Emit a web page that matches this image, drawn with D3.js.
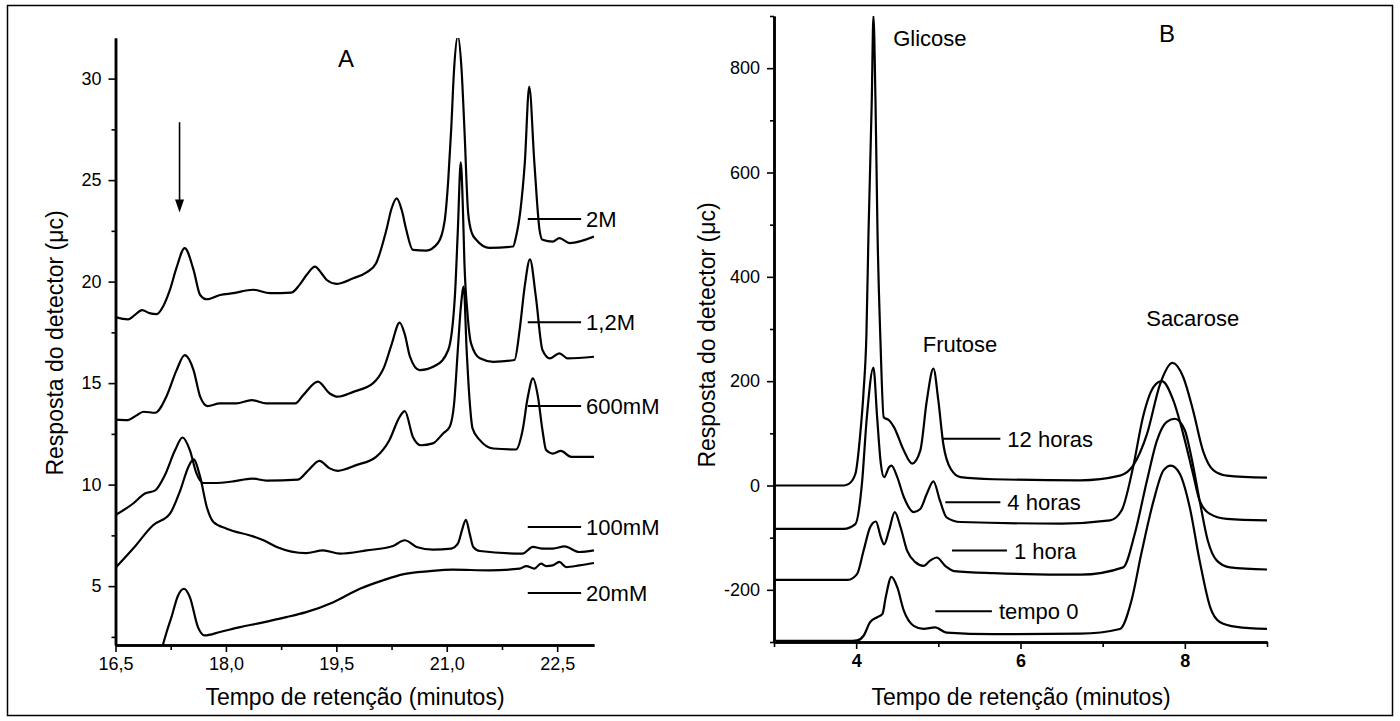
<!DOCTYPE html>
<html>
<head>
<meta charset="utf-8">
<script src="https://cdn.jsdelivr.net/npm/d3@7"></script>
<style>
  body { margin: 0; background: #fff; }
  svg text { font-family: "Liberation Sans", Arial, sans-serif; fill: #000; }
</style>
</head>
<body>
<div id="chart"></div>
<script>
"use strict";

// ---- Panel A: chromatograms at different eluent concentrations ----
var seriesA = ["2M", "1,2M", "600mM", "100mM", "20mM"];

var trace2M = [[16.5,18.25],[16.67,18.14],[16.76,18.35],[16.86,18.6],[16.96,18.45],[17.06,18.4],[17.15,18.8],
  [17.24,19.6],[17.33,20.7],[17.44,21.65],[17.56,20.58],[17.65,19.34],[17.74,19.13],[17.92,19.34],[18.1,19.43],
  [18.37,19.6],[18.6,19.43],[18.89,19.46],[19.0,19.84],[19.1,20.35],[19.21,20.74],[19.3,20.4],[19.37,20.08],
  [19.5,19.89],[19.73,20.17],[19.91,20.45],[20.04,20.91],[20.18,22.55],[20.25,23.6],[20.32,24.1],[20.39,23.5],
  [20.45,22.55],[20.54,21.56],[20.72,21.53],[20.88,21.9],[20.97,22.96],[21.02,25],[21.06,27.5],[21.1,30.5],
  [21.15,32.1],[21.2,30.5],[21.24,27.5],[21.29,23.4],[21.34,22.4],[21.4,22.06],[21.58,21.66],[21.9,21.73],
  [21.94,22.2],[22.0,23.5],[22.06,25.85],[22.12,29.6],[22.19,25.85],[22.26,22.55],[22.3,22.06],[22.44,21.97],
  [22.53,22.14],[22.67,21.9],[23.0,22.22]];

var trace12M = [[16.5,13.2],[16.67,13.18],[16.78,13.4],[16.88,13.59],[17.04,13.54],[17.19,14.33],[17.33,15.64],
  [17.44,16.38],[17.56,15.64],[17.65,14.33],[17.75,13.87],[17.92,14.0],[18.14,14.0],[18.35,14.16],[18.55,14.0],
  [18.94,14.0],[19.05,14.41],[19.25,15.07],[19.41,14.49],[19.52,14.33],[19.73,14.57],[20.0,15.0],[20.15,15.8],
  [20.25,16.9],[20.36,17.98],[20.43,17.4],[20.5,16.3],[20.63,15.64],[20.86,15.89],[21.02,16.63],[21.11,19.26],
  [21.15,22.5],[21.19,25.87],[21.22,23.5],[21.24,20.9],[21.28,18.5],[21.33,16.96],[21.45,16.22],[21.63,16.05],
  [21.92,16.14],[21.99,17.62],[22.06,19.8],[22.13,21.1],[22.21,19.26],[22.3,16.63],[22.4,16.22],[22.53,16.47],
  [22.64,16.22],[23.0,16.3]];

var trace600mM = [[16.5,8.5],[16.74,9.07],[16.9,9.56],[17.04,9.72],[17.17,10.46],[17.31,11.7],[17.41,12.32],
  [17.51,11.7],[17.6,10.55],[17.69,10.08],[17.83,10.08],[18.1,10.16],[18.35,10.3],[18.55,10.2],[18.98,10.25],
  [19.12,10.71],[19.27,11.17],[19.41,10.8],[19.52,10.68],[19.77,10.96],[20.04,11.37],[20.22,12.19],[20.36,13.34],
  [20.43,13.62],[20.54,12.35],[20.65,11.94],[20.81,12.03],[20.95,12.52],[21.04,12.85],[21.1,14.0],[21.15,16.63],
  [21.19,18.7],[21.23,19.75],[21.27,16.63],[21.31,14.16],[21.35,12.77],[21.45,12.19],[21.63,11.78],[21.94,11.73],
  [22.03,12.68],[22.1,14.3],[22.17,15.23],[22.24,14.3],[22.3,12.68],[22.35,11.7],[22.44,11.53],[22.55,11.66],
  [22.69,11.37],[23.0,11.37]];

var trace100mM = [[16.5,5.9],[16.74,6.85],[17.01,8.0],[17.24,8.57],[17.38,9.72],[17.49,10.87],[17.56,11.24],
  [17.65,10.38],[17.74,8.9],[17.83,8.16],[18.01,7.83],[18.37,7.45],[18.51,7.26],[18.69,6.93],[19.09,6.63],
  [19.32,6.76],[19.55,6.6],[19.91,6.76],[20.27,6.98],[20.43,7.26],[20.59,6.93],[20.81,6.8],[21.06,6.85],
  [21.15,7.09],[21.21,7.8],[21.26,8.27],[21.31,7.6],[21.36,6.93],[21.45,6.73],[22.03,6.6],[22.17,6.93],
  [22.3,6.85],[22.44,6.85],[22.6,6.96],[22.8,6.68],[23.0,6.76]];

var trace20mM = [[17.12,1.8],[17.2,2.8],[17.26,3.47],[17.35,4.54],[17.43,4.87],[17.51,4.46],[17.62,2.98],
  [17.71,2.57],[17.92,2.74],[18.19,2.98],[18.46,3.18],[18.82,3.47],[19.09,3.72],[19.46,4.21],[19.82,4.87],
  [20.13,5.28],[20.4,5.58],[20.77,5.74],[21.08,5.81],[21.58,5.78],[21.99,5.86],[22.08,5.99],[22.19,5.86],
  [22.28,6.11],[22.35,5.99],[22.44,6.02],[22.53,6.19],[22.62,5.94],[22.8,6.02],[23.0,6.14]];

var labelA_v = [23.08, 18.0, 13.87, 7.91, 4.66];   // level of each label line
var labelA_t = [22.1, 22.825];                    // extent of the label lines
var arrowA = { t: 17.37, from: 27.85, to: 23.4 };

var xTicksA = [16.5, 18, 19.5, 21, 22.5];
var xMinorA = [17.25, 18.75, 20.25, 21.75];
var yTicksA = [5, 10, 15, 20, 25, 30];
var yMinorA = [2.5, 7.5, 12.5, 17.5, 22.5, 27.5];

// ---- Panel B: sucrose hydrolysis over time ----
var seriesB = ["12 horas", "4 horas", "1 hora", "tempo 0"];

var traceH12 = [[3,0],[3.85,0],[3.91,3],[3.99,22],[4.05,99],[4.09,180],[4.125,291],[4.15,483],[4.19,739],
  [4.21,900],[4.235,739],[4.26,483],[4.295,280],[4.335,131],[4.4,125],[4.46,112],[4.58,67],[4.68,42],[4.78,67],
  [4.86,163],[4.94,224],[5.0,163],[5.06,80],[5.15,32],[5.27,16],[5.67,12],[6.73,10],[7.21,19],[7.37,38],
  [7.54,99],[7.7,195],[7.85,235],[7.98,208],[8.1,144],[8.22,67],[8.35,29],[8.51,19],[9.0,15]];

var traceH4 = [[3,-83],[3.85,-83],[3.99,-74],[4.07,3],[4.13,131],[4.21,226],[4.255,131],[4.3,42],[4.34,16],
  [4.4,35],[4.43,38],[4.5,16],[4.58,-22],[4.7,-51],[4.78,-45],[4.86,-16],[4.94,8],[5.02,-29],[5.1,-61],
  [5.27,-70],[6.5,-73],[7.09,-67],[7.23,-48],[7.37,35],[7.49,131],[7.62,189],[7.72,200],[7.86,163],[7.98,99],
  [8.1,22],[8.18,-29],[8.3,-54],[8.51,-64],[9.0,-67]];

var traceH1 = [[3,-181],[3.9,-181],[4.01,-170],[4.09,-125],[4.17,-80],[4.24,-69],[4.3,-99],[4.34,-113],
  [4.4,-86],[4.47,-51],[4.54,-80],[4.62,-125],[4.72,-147],[4.82,-154],[4.9,-144],[4.98,-138],[5.09,-155],
  [5.19,-164],[5.67,-168],[6.73,-171],[7.25,-157],[7.39,-93],[7.54,10],[7.66,86],[7.78,122],[7.88,128],
  [8.0,106],[8.08,54],[8.18,-29],[8.28,-106],[8.39,-144],[8.55,-157],[9.0,-161]];

var traceT0 = [[3,-298],[3.9,-298],[4.01,-297],[4.09,-288],[4.17,-262],[4.25,-253],[4.32,-246],[4.36,-214],
  [4.43,-175],[4.5,-195],[4.58,-240],[4.7,-269],[4.82,-275],[4.96,-272],[5.1,-282],[5.67,-285],[6.73,-284],
  [7.21,-275],[7.35,-221],[7.47,-131],[7.62,-29],[7.74,29],[7.83,38],[7.94,22],[8.06,-42],[8.18,-144],
  [8.31,-234],[8.43,-262],[8.63,-271],[9.0,-275]];

var labelB_v = [89.6, -32, -124.8, -241];
var labelB_t = [[5.057, 5.755], [5.085, 5.755], [5.166, 5.835], [4.963, 5.652]];

var compounds = ["Glicose", "Frutose", "Sacarose"];
var compound_t = [4.45, 4.81, 7.53];
var compound_v = [842, 255, 305];

var xTicksB = [4, 6, 8];
var xMinorB = [3, 5, 7, 9];
var yTicksB = [-200, 0, 200, 400, 600, 800];
var yMinorB = [-300, -100, 100, 300, 500, 700, 900];

/*
 * # Drawing
 */
var svg = d3.select("#chart")
            .append("svg")
            .attr("width", 1400)
            .attr("height", 721);

// outer frame
svg.append("rect")
   .attr("x", 7.5).attr("y", 5.5)
   .attr("width", 1385).attr("height", 710)
   .attr("fill", "none")
   .attr("stroke", "#000")
   .attr("stroke-width", 1.5);

var line = function (x, y) {
  return d3.line()
           .x(function (d) { return x(d[0]); })
           .y(function (d) { return y(d[1]); })
           .curve(d3.curveMonotoneX);
};

// plain hyphen for negatives, as in the original figure
var plain = function (d) { return String(d); };

var drawAxes = function (g, x, y, opt) {
  var xAxis = d3.axisBottom(x).tickValues(opt.xTicks).tickSize(7).tickSizeOuter(0)
                .tickPadding(5).tickFormat(opt.xFormat);
  var xMinor = d3.axisBottom(x).tickValues(opt.xMinor).tickSize(5).tickSizeOuter(0).tickFormat("");
  var yAxis = d3.axisLeft(y).tickValues(opt.yTicks).tickSize(7).tickSizeOuter(0)
                .tickPadding(7).tickFormat(opt.yFormat);
  var yMinor = d3.axisLeft(y).tickValues(opt.yMinor).tickSize(4).tickSizeOuter(0).tickFormat("");

  var gx = g.append("g").attr("transform", "translate(0," + y.range()[0] + ")");
  gx.call(xMinor);
  gx.append("g").call(xAxis);
  var gy = g.append("g").attr("transform", "translate(" + x.range()[0] + ",0)");
  gy.call(yMinor);
  gy.append("g").call(yAxis);

  g.selectAll(".domain").attr("stroke", "#000").attr("stroke-width", 2.5);
  g.selectAll(".tick line").attr("stroke", "#000").attr("stroke-width", 1.6);
  g.selectAll(".tick text").attr("fill", "#000").style("font-size", "18px")
   .style("font-family", "'Liberation Sans', Arial, sans-serif");
  gx.selectAll(".tick text").style("font-weight", opt.xBold ? "bold" : "normal");
  return { gx: gx, gy: gy };
};

var drawTraces = function (g, id, x, y, traces) {
  g.append("clipPath").attr("id", id)
   .append("rect")
   .attr("x", x.range()[0]).attr("y", y.range()[1])
   .attr("width", x.range()[1] - x.range()[0])
   .attr("height", y.range()[0] - y.range()[1]);
  g.append("g").attr("clip-path", "url(#" + id + ")")
   .selectAll("path")
   .data(traces)
   .enter()
   .append("path")
   .attr("d", line(x, y))
   .attr("fill", "none")
   .attr("stroke", "#000")
   .attr("stroke-width", 2.2)
   .attr("stroke-linejoin", "round");
};

//Panel A
var xA = d3.scaleLinear().domain([16.5, 23]).range([115.5, 594]);
var yA = d3.scaleLinear().domain([2.1, 32]).range([645, 38]);
var gA = svg.append("g");

drawTraces(gA, "clipA", xA, yA, [trace2M, trace12M, trace600mM, trace100mM, trace20mM]);
drawAxes(gA, xA, yA, {
  xTicks: xTicksA, xMinor: xMinorA, yTicks: yTicksA, yMinor: yMinorA,
  xFormat: function (d) { return d3.format(".1f")(d).replace(".", ","); },
  yFormat: plain, xBold: false
});

// labels of panel A
gA.selectAll(".labline")
  .data(seriesA)
  .enter()
  .append("line")
  .attr("x1", xA(labelA_t[0])).attr("x2", xA(labelA_t[1]))
  .attr("y1", function (d, i) { return yA(labelA_v[i]); })
  .attr("y2", function (d, i) { return yA(labelA_v[i]); })
  .attr("stroke", "#000").attr("stroke-width", 2);
gA.selectAll(".labtext")
  .data(seriesA)
  .enter()
  .append("text")
  .attr("x", xA(labelA_t[1]) + 5)
  .attr("y", function (d, i) { return yA(labelA_v[i]); })
  .attr("dy", "0.36em")
  .style("font-size", "22px")
  .text(function (d) { return d; });

// arrow
gA.append("line")
  .attr("x1", xA(arrowA.t)).attr("x2", xA(arrowA.t))
  .attr("y1", yA(arrowA.from)).attr("y2", yA(arrowA.to) - 6)
  .attr("stroke", "#000").attr("stroke-width", 1.6);
gA.append("path")
  .attr("d", "M" + (xA(arrowA.t) - 4.5) + "," + (yA(arrowA.to) - 13) +
             "L" + (xA(arrowA.t) + 4.5) + "," + (yA(arrowA.to) - 13) +
             "L" + xA(arrowA.t) + "," + yA(arrowA.to) + "Z")
  .attr("fill", "#000");

gA.append("text").attr("x", 346).attr("y", 67).attr("text-anchor", "middle")
  .style("font-size", "24px").text("A");
gA.append("text").attr("x", 355).attr("y", 705).attr("text-anchor", "middle")
  .style("font-size", "23px").text("Tempo de retenção (minutos)");
gA.append("text").attr("transform", "translate(63,343) rotate(-90)").attr("text-anchor", "middle")
  .style("font-size", "23px").text("Resposta do detector (μc)");

//Panel B
var xB = d3.scaleLinear().domain([3, 9]).range([774, 1267]);
var yB = d3.scaleLinear().domain([-300, 900]).range([642, 16]);
var gB = svg.append("g");

drawTraces(gB, "clipB", xB, yB, [traceH12, traceH4, traceH1, traceT0]);
drawAxes(gB, xB, yB, {
  xTicks: xTicksB, xMinor: xMinorB, yTicks: yTicksB, yMinor: yMinorB,
  xFormat: plain, yFormat: plain, xBold: true
});

gB.selectAll(".labline")
  .data(seriesB)
  .enter()
  .append("line")
  .attr("x1", function (d, i) { return xB(labelB_t[i][0]); })
  .attr("x2", function (d, i) { return xB(labelB_t[i][1]); })
  .attr("y1", function (d, i) { return yB(labelB_v[i]); })
  .attr("y2", function (d, i) { return yB(labelB_v[i]); })
  .attr("stroke", "#000").attr("stroke-width", 2);
gB.selectAll(".labtext")
  .data(seriesB)
  .enter()
  .append("text")
  .attr("x", function (d, i) { return xB(labelB_t[i][1]) + 7; })
  .attr("y", function (d, i) { return yB(labelB_v[i]); })
  .attr("dy", "0.36em")
  .style("font-size", "22px")
  .text(function (d) { return d; });

gB.selectAll(".compound")
  .data(compounds)
  .enter()
  .append("text")
  .attr("x", function (d, i) { return xB(compound_t[i]); })
  .attr("y", function (d, i) { return yB(compound_v[i]); })
  .style("font-size", "22px")
  .text(function (d) { return d; });

gB.append("text").attr("x", 1167).attr("y", 42).attr("text-anchor", "middle")
  .style("font-size", "24px").text("B");
gB.append("text").attr("x", 1021).attr("y", 705).attr("text-anchor", "middle")
  .style("font-size", "23px").text("Tempo de retenção (minutos)");
gB.append("text").attr("transform", "translate(715,335) rotate(-90)").attr("text-anchor", "middle")
  .style("font-size", "23px").text("Resposta do detector (μc)");
</script>
</body>
</html>
